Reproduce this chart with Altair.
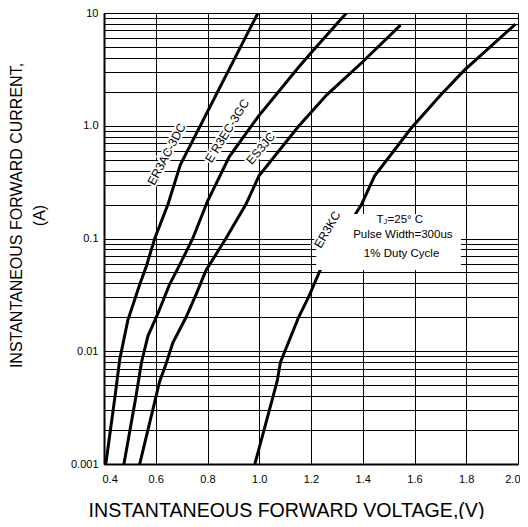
import altair as alt
import pandas as pd

# ---------------- data ----------------
series_names = ["ER3AC-3DC", "ER3EC-3GC", "ES3JC", "ER3KC"]

a_v = [0.407, 0.442, 0.461, 0.492, 0.538, 0.565, 0.596, 0.647, 0.695, 0.995]
a_i = [0.001, 0.0039, 0.0085, 0.0188, 0.039, 0.058, 0.1, 0.2, 0.45, 10]

b_v = [0.477, 0.523, 0.545, 0.570, 0.608, 0.653, 0.692, 0.743, 0.800, 0.884, 0.995, 1.152, 1.203, 1.337]
b_i = [0.001, 0.0039, 0.008, 0.0137, 0.0215, 0.039, 0.058, 0.1, 0.214, 0.53, 1.2, 3.3, 4.5, 10]

c_v = [0.538, 0.615, 0.638, 0.666, 0.717, 0.756, 0.794, 0.871, 0.948, 0.999, 1.152, 1.261, 1.395, 1.546]
c_i = [0.001, 0.0054, 0.0075, 0.0119, 0.020, 0.032, 0.052, 0.1, 0.2, 0.36, 0.99, 1.88, 3.6, 7.8]

d_v = [0.983, 1.069, 1.082, 1.152, 1.190, 1.235, 1.395, 1.446, 1.587, 1.702, 1.792, 1.990]
d_i = [0.001, 0.0054, 0.008, 0.020, 0.030, 0.052, 0.2, 0.36, 0.95, 1.88, 3.1, 7.95]

x_ticks = [0.4, 0.6, 0.8, 1.0, 1.2, 1.4, 1.6, 1.8, 2.0]
decades = [0.001, 0.01, 0.1, 1.0, 10.0]
decade_labels = ["0.001", "0.01", "0.1", "1.0", "10"]

label_text = ["ER3AC-3DC", "E R3EC-3GC", "ES3JC", "ER3KC"]
label_v = [0.642, 0.876, 1.006, 1.263]
label_i = [0.56, 0.90, 0.63, 0.12]
label_angle = [298, 302, 310, 300]

note_text = ["Pulse Width=300us", "1% Duty Cycle"]
note_v = [1.555, 1.55]
note_i = [0.1085, 0.0729]
tj_v = [1.55]
tj_i = [0.1474]

box_v = [1.22, 1.78]
box_i = [0.0526, 0.165]

# ---------------- tables ----------------
rows = []
for name, vs, cs in zip(series_names, [a_v, b_v, c_v, d_v], [a_i, b_i, c_i, d_i]):
    for k, (v, c) in enumerate(zip(vs, cs)):
        rows.append({"series": name, "v": v, "i": c, "order": k})
curves = pd.DataFrame(rows)

labels = pd.DataFrame({"text": label_text, "v": label_v, "i": label_i, "angle": label_angle})
notes = pd.DataFrame({"text": note_text, "v": note_v, "i": note_i})
tj = pd.DataFrame({"v": tj_v, "i": tj_i})
box = pd.DataFrame({"v": [box_v[0]], "v2": [box_v[1]], "i": [box_i[0]], "i2": [box_i[1]]})

y_grid = sorted({round(d * m, 10) for d in decades[:-1] for m in range(1, 10)} | {decades[-1]})
label_expr = " : ".join(
    f"abs(datum.value - {d}) < {d * 1e-6} ? '{s}'" for d, s in zip(decades, decade_labels)
) + " : ''"

FONT = "Liberation Sans"

x_scale = alt.Scale(domain=[0.4, 2.0], nice=False, zero=False)
y_scale = alt.Scale(type="log", domain=[0.001, 10], nice=False)

x_axis = alt.Axis(
    values=x_ticks, format=".1f", grid=True, gridColor="black", gridWidth=1, gridOpacity=1,
    ticks=False, tickSize=0, domainColor="black", domainWidth=2,
    labelFontSize=11, labelColor="black", labelPadding=9, labelFlush=True, labelFlushOffset=2,
    labelFont=FONT,
    title="INSTANTANEOUS FORWARD VOLTAGE,(V)", titleFontSize=19.6, titleFontWeight="normal",
    titleColor="black", titleFont=FONT, titleX=182, titleY=52, titleAlign="center",
    titleBaseline="alphabetic",
)
y_axis = alt.Axis(
    values=y_grid, labelExpr=label_expr, grid=True, gridColor="black", gridWidth=1, gridOpacity=1,
    ticks=False, tickSize=0, domainColor="black", domainWidth=2,
    labelFontSize=11, labelColor="black", labelPadding=6, labelOverlap=False, labelFont=FONT,
    title=["INSTANTANEOUS FORWARD CURRENT,", "(A)"], titleFontSize=16, titleFontWeight="normal",
    titleColor="black", titleFont=FONT, titleX=-83, titleY=202, titleAlign="center",
    titleBaseline="alphabetic", titleAngle=270, titleLineHeight=23,
)

X = alt.X("v:Q", scale=x_scale, axis=x_axis)
Y = alt.Y("i:Q", scale=y_scale, axis=y_axis)
Xn = alt.X("v:Q", scale=x_scale)
Yn = alt.Y("i:Q", scale=y_scale)

box_layer = alt.Chart(box).mark_rect(color="white").encode(
    x=Xn, x2="v2:Q", y=Yn, y2="i2:Q"
)

halo = alt.Chart(labels).mark_text(
    color="white", stroke="white", strokeWidth=4, fontSize=12, font=FONT
).encode(x=Xn, y=Yn, text="text:N", angle=alt.Angle("angle:Q", scale=None))

lines = alt.Chart(curves).mark_line(color="black", clip=True).encode(
    x=X, y=Y, detail="series:N", order="order:Q",
    strokeWidth=alt.StrokeWidth(
        "series:N", scale=alt.Scale(domain=series_names, range=[3, 3, 2, 2]), legend=None
    ),
)

label_layer = alt.Chart(labels).mark_text(color="black", fontSize=12, font=FONT).encode(
    x=Xn, y=Yn, text="text:N", angle=alt.Angle("angle:Q", scale=None)
)

note_layer = alt.Chart(notes).mark_text(color="black", fontSize=11.5, font=FONT).encode(
    x=Xn, y=Yn, text="text:N"
)

tj_t = alt.Chart(tj).mark_text(color="black", fontSize=11.5, font=FONT, align="left", dx=-25,
                               text="T").encode(x=Xn, y=Yn)
tj_j = alt.Chart(tj).mark_text(color="black", fontSize=7.5, font=FONT, align="left", dx=-18,
                               dy=2.5, text="J").encode(x=Xn, y=Yn)
tj_rest = alt.Chart(tj).mark_text(color="black", fontSize=11.5, font=FONT, align="left", dx=-14,
                                  text="=25° C").encode(x=Xn, y=Yn)

chart = alt.layer(
    lines, box_layer, halo, label_layer, note_layer, tj_t, tj_j, tj_rest
).properties(
    width=414,
    height=451,
    autosize=alt.AutoSizeParams(type="none"),
    padding={"left": 96, "top": 5, "right": 2, "bottom": 55},
).configure_view(
    stroke="black", strokeWidth=1
).configure(background="white")

chart.save("out.html", embed_options={"renderer": "svg", "actions": False})
